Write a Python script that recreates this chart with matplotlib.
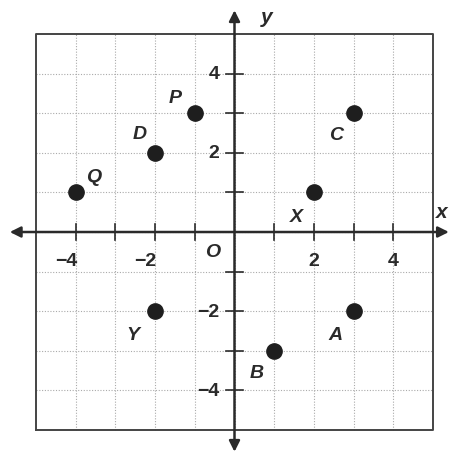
import matplotlib.pyplot as plt

# points on the plane
names = ['Q', 'D', 'P', 'C', 'X', 'Y', 'A', 'B']
xs = [-4, -2, -1, 3, 2, -2, 3, 1]
ys = [1, 2, 3, 3, 1, -2, -2, -3]

x_ticks = [-4, -2, 2, 4]
y_ticks = [-4, -2, 2, 4]
grid_vals = [-5, -4, -3, -2, -1, 0, 1, 2, 3, 4, 5]

# where each letter sits relative to its dot
label_offset = {
    'Q': (0.45, 0.4), 'D': (-0.4, 0.5), 'P': (-0.5, 0.4), 'C': (-0.45, -0.55),
    'X': (-0.45, -0.6), 'Y': (-0.55, -0.6), 'A': (-0.45, -0.6), 'B': (-0.45, -0.55),
}

ink = '#2a2a2a'
plt.rcParams['font.family'] = ['Liberation Sans', 'DejaVu Sans']

fig = plt.figure(figsize=(4.49, 4.56), dpi=100)
ax = fig.add_axes([0, 0, 1, 1])
ax.set_xlim(-5.907, 5.403)
ax.set_ylim(-5.631, 5.884)
ax.axis('off')

# dotted grid
for v in grid_vals[1:-1]:
    ax.plot([v, v], [-5, 5], color='#aaaaaa', lw=0.8, ls=(0, (1, 1.5)), zorder=1)
    ax.plot([-5, 5], [v, v], color='#aaaaaa', lw=0.8, ls=(0, (1, 1.5)), zorder=1)

# outer box
ax.plot([-5, 5, 5, -5, -5], [-5, -5, 5, 5, -5], color='#444444', lw=1.4, zorder=2)

# axes with arrows
arrow = dict(arrowstyle='<|-|>', color=ink, lw=1.8, mutation_scale=16, shrinkA=0, shrinkB=0)
ax.annotate('', xy=(5.40, 0), xytext=(-5.66, 0), arrowprops=arrow, zorder=3,
            annotation_clip=False)
ax.annotate('', xy=(0, 5.6), xytext=(0, -5.55), arrowprops=arrow, zorder=3,
            annotation_clip=False)

# tick marks on axes
for v in grid_vals[1:-1]:
    if v == 0:
        continue
    ax.plot([v, v], [-0.2, 0.2], color=ink, lw=1.2, zorder=3)
    ax.plot([-0.22, 0.22], [v, v], color=ink, lw=1.2, zorder=3)

tick_font = dict(fontsize=14, fontweight='bold', color=ink)
for v in x_ticks:
    shift = -0.25 if v < 0 else 0
    ax.text(v + shift, -0.72, str(v).replace('-', '\u2212'), ha='center', va='center', **tick_font)
for v in y_ticks:
    ax.text(-0.38, v, str(v).replace('-', '\u2212'), ha='right', va='center', **tick_font)

ax.text(-0.55, -0.5, 'O', ha='center', va='center', fontsize=14, fontweight='bold',
        style='italic', color=ink)
ax.text(0.8, 5.43, 'y', ha='center', va='center', fontsize=15, fontweight='bold',
        style='italic', color=ink)
ax.text(5.36, 0.53, 'x', ha='right', va='center', fontsize=15, fontweight='bold',
        style='italic', color=ink)

# points and their letters
ax.plot(xs, ys, 'o', color='#1e1e1e', ms=11, zorder=4)
for n, x, y in zip(names, xs, ys):
    dx, dy = label_offset[n]
    ax.text(x + dx, y + dy, n, ha='center', va='center', fontsize=14, fontweight='bold',
            style='italic', color=ink)

fig.savefig('out.png', dpi=100)
